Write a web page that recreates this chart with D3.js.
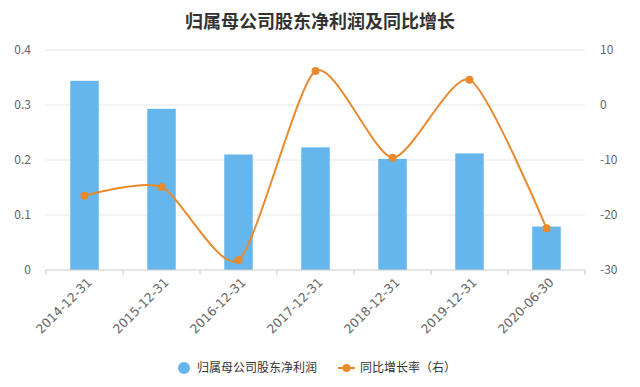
<!DOCTYPE html>
<html>
<head>
<meta charset="utf-8">
<script src="https://cdn.jsdelivr.net/npm/d3@7"></script>
<style>
  body { margin: 0; background: #fff; }
  text { font-family: "Noto Sans CJK SC", "DejaVu Sans", sans-serif; }
</style>
</head>
<body>
<svg id="chart"></svg>
<script>
let dates = ["2014-12-31", "2015-12-31", "2016-12-31", "2017-12-31", "2018-12-31", "2019-12-31", "2020-06-30"];
let profit = [0.344, 0.293, 0.210, 0.223, 0.202, 0.212, 0.079];
let growth = [-16.5, -14.9, -28.2, 6.2, -9.6, 4.6, -22.4];
let leftTicks = [0, 0.1, 0.2, 0.3, 0.4];
let rightTicks = [-30, -20, -10, 0, 10];

let W = 640, H = 387;
let margin = {top: 50, right: 55, bottom: 117, left: 46};
let width = W - margin.left - margin.right,
    height = H - margin.top - margin.bottom;

let svg = d3.select("#chart").attr("width", W).attr("height", H);

svg.append("text")
  .attr("x", 320).attr("y", 28)
  .attr("text-anchor", "middle")
  .attr("font-size", 18).attr("font-weight", "bold")
  .attr("fill", "#333")
  .text("归属母公司股东净利润及同比增长");

let g = svg.append("g").attr("transform", "translate(" + margin.left + "," + margin.top + ")");

let x = d3.scaleBand().domain(dates).range([0, width]).paddingInner(0.63).paddingOuter(0.315);
let yL = d3.scaleLinear().domain([0, 0.4]).range([height, 0]);
let yR = d3.scaleLinear().domain([-30, 10]).range([height, 0]);

// grid
g.selectAll(".grid").data(leftTicks.slice(1)).enter().append("line")
  .attr("x1", 0).attr("x2", width)
  .attr("y1", d => yL(d)).attr("y2", d => yL(d))
  .attr("stroke", "#e6e6e6");

// left labels
g.selectAll(".ll").data(leftTicks).enter().append("text")
  .attr("x", -15).attr("y", d => yL(d)).attr("dy", "0.35em")
  .attr("text-anchor", "end").attr("font-size", 12).attr("fill", "#666")
  .text(d => d === 0 ? "0" : d.toFixed(1));

// right labels
g.selectAll(".rl").data(rightTicks).enter().append("text")
  .attr("x", width + 15).attr("y", d => yR(d)).attr("dy", "0.35em")
  .attr("text-anchor", "start").attr("font-size", 12).attr("fill", "#666")
  .text(d => d);

// bars
g.selectAll(".bar").data(profit).enter().append("rect")
  .attr("x", (d, i) => x(dates[i]))
  .attr("width", x.bandwidth())
  .attr("y", d => yL(d))
  .attr("height", d => height - yL(d))
  .attr("fill", "#66b6ee");

// x axis
let xAxis = g.append("g").attr("transform", "translate(0," + height + ")");
xAxis.append("line").attr("x1", 0).attr("x2", width).attr("stroke", "#ccc");
let bounds = d3.range(dates.length + 1).map(i => i * width / dates.length);
xAxis.selectAll(".tk").data(bounds).enter().append("line")
  .attr("x1", d => d).attr("x2", d => d).attr("y1", 0).attr("y2", 5)
  .attr("stroke", "#ccc");
xAxis.selectAll(".xl").data(dates).enter().append("text")
  .attr("transform", d => "translate(" + (x(d) + x.bandwidth() / 2 + 5) + ",10) rotate(-45)")
  .attr("text-anchor", "end").attr("dy", "0.35em")
  .style("font-family", "'DejaVu Sans'")
  .attr("font-size", 12.5).attr("fill", "#666")
  .text(d => d);

// line
let cx = (d, i) => x(dates[i]) + x.bandwidth() / 2;
let line = d3.line().x(cx).y(d => yR(d)).curve(d3.curveCardinal.tension(0.3));
g.append("path").datum(growth)
  .attr("d", line).attr("fill", "none")
  .attr("stroke", "#e98a2e").attr("stroke-width", 2);
g.selectAll(".pt").data(growth).enter().append("circle")
  .attr("cx", cx).attr("cy", d => yR(d)).attr("r", 4)
  .attr("fill", "#e98a2e");

// legend
let lg = svg.append("g");
lg.append("circle").attr("cx", 184).attr("cy", 368).attr("r", 6).attr("fill", "#66b6ee");
lg.append("text").attr("x", 197).attr("y", 368).attr("dy", "0.35em")
  .attr("font-size", 12).attr("fill", "#333").text("归属母公司股东净利润");
lg.append("line").attr("x1", 338).attr("x2", 355).attr("y1", 368).attr("y2", 368)
  .attr("stroke", "#e98a2e").attr("stroke-width", 2);
lg.append("circle").attr("cx", 346.5).attr("cy", 368).attr("r", 4).attr("fill", "#e98a2e");
lg.append("text").attr("x", 360).attr("y", 368).attr("dy", "0.35em")
  .attr("font-size", 12).attr("fill", "#333").text("同比增长率（右）");
</script>
</body>
</html>
